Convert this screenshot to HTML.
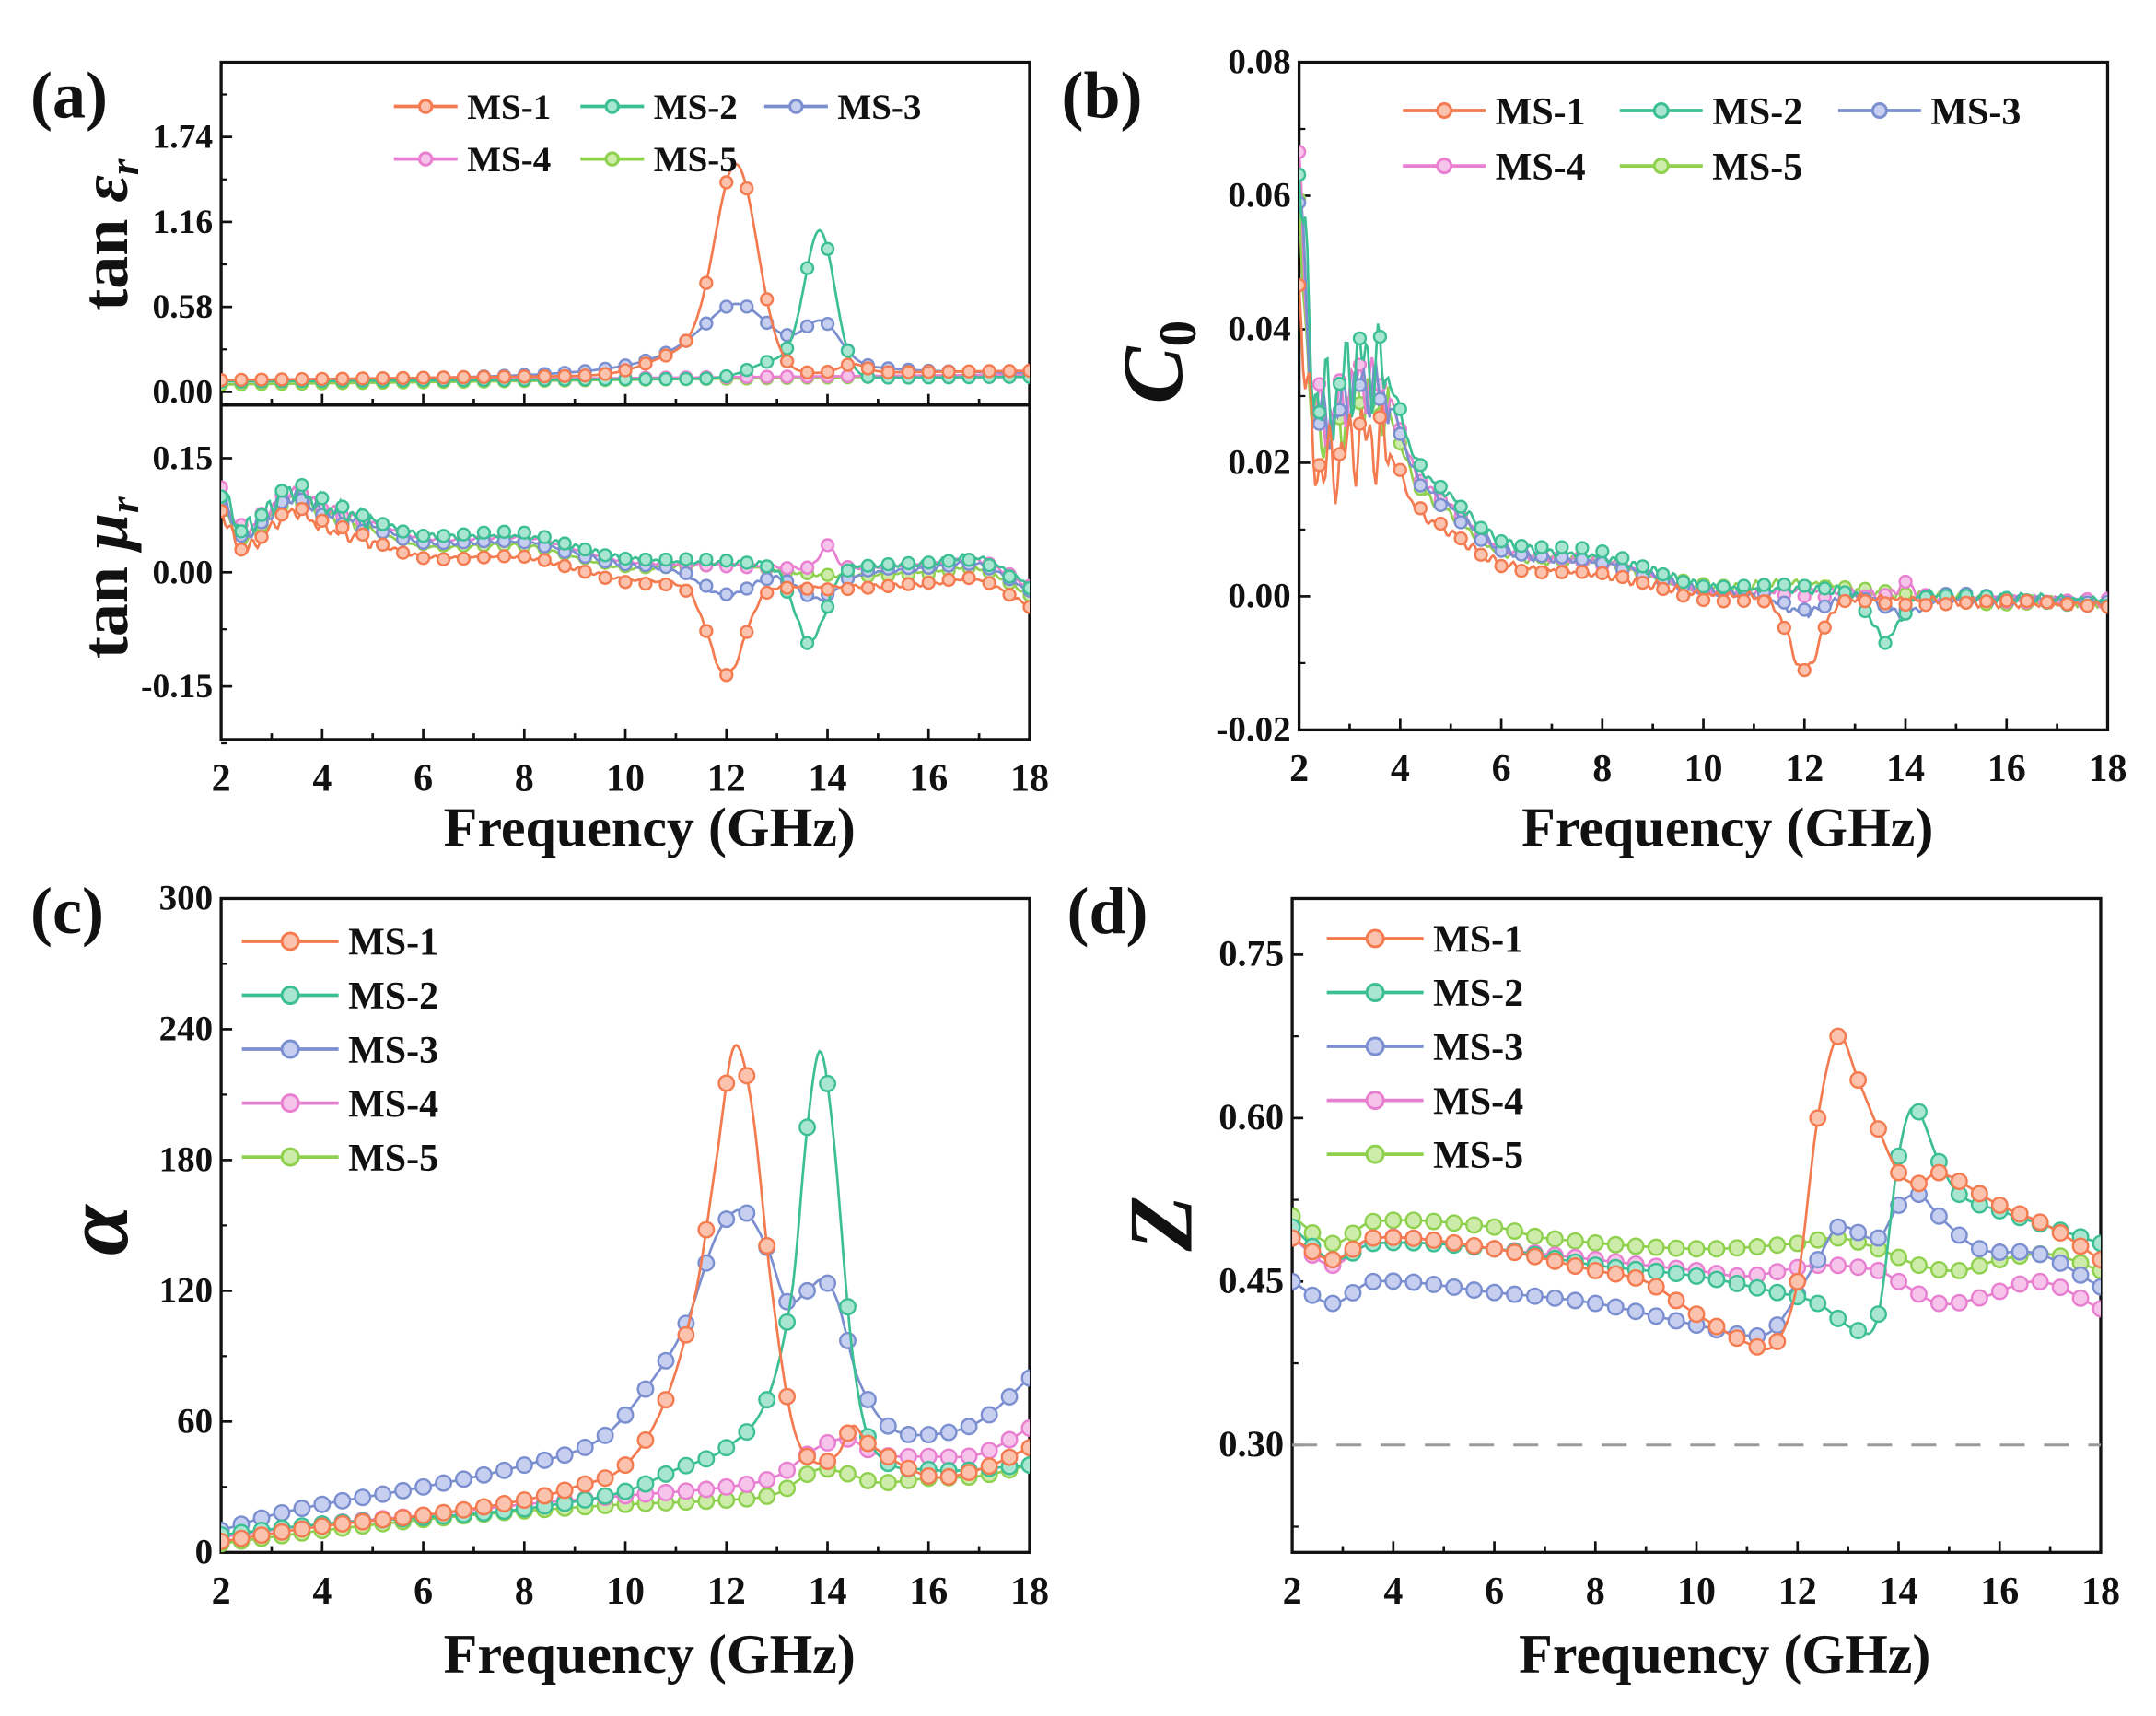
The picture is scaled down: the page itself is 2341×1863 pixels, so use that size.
<!DOCTYPE html>
<html><head><meta charset="utf-8">
<style>
html,body{margin:0;padding:0;background:#fff;}
svg{display:block;}
text{font-family:"Liberation Serif",serif;font-weight:bold;fill:#111;}
</style></head>
<body>
<svg id="s" width="2341" height="1863" viewBox="0 0 1560 1241.4" preserveAspectRatio="none" xmlns="http://www.w3.org/2000/svg">
<rect width="1560" height="1241.4" fill="#fff"/>
<text x="22" y="85" font-size="48">(a)</text>
<text x="768" y="85" font-size="48">(b)</text>
<text x="22" y="675" font-size="48">(c)</text>
<text x="772" y="675" font-size="48">(d)</text>
<text x="470" y="612" font-size="40" text-anchor="middle">Frequency (GHz)</text>
<text x="1250" y="612" font-size="40" text-anchor="middle">Frequency (GHz)</text>
<text x="470" y="1210" font-size="40" text-anchor="middle">Frequency (GHz)</text>
<text x="1248" y="1210" font-size="40" text-anchor="middle">Frequency (GHz)</text>
<text transform="translate(92,170) rotate(-90)" font-size="48" text-anchor="middle">tan <tspan font-style="italic">ε<tspan font-size="30" dy="8">r</tspan></tspan></text>
<text transform="translate(92,418) rotate(-90)" font-size="48" text-anchor="middle">tan <tspan font-style="italic">μ<tspan font-size="30" dy="8">r</tspan></tspan></text>
<text transform="translate(855,262) rotate(-90)" font-size="62" text-anchor="middle" font-style="italic">C<tspan font-size="38" dy="10" font-style="normal">0</tspan></text>
<text transform="translate(92,890) rotate(-90)" font-size="66" text-anchor="middle" font-style="italic">α</text>
<text transform="translate(862,885) rotate(-90)" font-size="66" text-anchor="middle" font-style="italic">Z</text>
<g id="g"></g>
</svg>
<script>
var C=['#f47a50','#3dbf95','#7b8fd0','#e87fd0','#8fd14f'];
var L=['#fbc3ad','#a9e6d2','#c6cff0','#f6c3ea','#cdeca9'];
var out='';
function cr(pts,f){var n=pts.length;if(f<=pts[0][0])return pts[0][1];if(f>=pts[n-1][0])return pts[n-1][1];
var i=0;while(i<n-2&&pts[i+1][0]<f)i++;
var p0=pts[Math.max(0,i-1)],p1=pts[i],p2=pts[i+1],p3=pts[Math.min(n-1,i+2)];
var t=(f-p1[0])/(p2[0]-p1[0]);
var m1=(p2[1]-p0[1])/(p2[0]-p0[0])*(p2[0]-p1[0]),m2=(p3[1]-p1[1])/(p3[0]-p1[0])*(p2[0]-p1[0]);
var t2=t*t,t3=t2*t;return (2*t3-3*t2+1)*p1[1]+(t3-2*t2+t)*m1+(-2*t3+3*t2)*p2[1]+(t3-t2)*m2;}
function G(f,a,c,w){return a*Math.exp(-(f-c)*(f-c)/(2*w*w));}
function axes(x0,x1,y0,y1,ymin,ymax,ticks,minor,labs,fs,noX){
 var s='<rect x="'+x0+'" y="'+y0+'" width="'+(x1-x0)+'" height="'+(y1-y0)+'" fill="none" stroke="#111" stroke-width="2.2"/>';
 function X(f){return x0+(f-2)/16*(x1-x0);}
 function Y(v){return y1-(v-ymin)/(ymax-ymin)*(y1-y0);}
 for(var f=2;f<=18;f+=1){var xx=X(f),l=(f%2==0)?8:4.5;s+='<line x1="'+xx+'" x2="'+xx+'" y1="'+y1+'" y2="'+(y1-l)+'" stroke="#111" stroke-width="1.8"/>';
  if(!noX&&f%2==0)s+='<text x="'+xx+'" y="'+(y1+37)+'" font-size="28" text-anchor="middle">'+f+'</text>';}
 ticks.forEach(function(v,i){var yy=Y(v);s+='<line x1="'+x0+'" x2="'+(x0+8)+'" y1="'+yy+'" y2="'+yy+'" stroke="#111" stroke-width="1.8"/>';
  if(labs[i]!==null)s+='<text x="'+(x0-6)+'" y="'+(yy+8)+'" font-size="'+fs+'" text-anchor="end">'+labs[i]+'</text>';});
 minor.forEach(function(v){var yy=Y(v);s+='<line x1="'+x0+'" x2="'+(x0+4.5)+'" y1="'+yy+'" y2="'+yy+'" stroke="#111" stroke-width="1.5"/>';});
 out+=s;return [X,Y];}
function series(XY,fn,ci,step,r,clip){
 var X=XY[0],Y=XY[1],d='';
 for(var f=2;f<=18.001;f+=0.04){d+=(d?'L':'M')+X(f).toFixed(1)+','+Y(fn(f)).toFixed(1);}
 var s='<path d="'+d+'" fill="none" stroke="'+C[ci]+'" stroke-width="1.8"/>';
 for(var f=2;f<=18.001;f+=step){var x=X(f),y=Y(fn(f));s+='<circle cx="'+x.toFixed(1)+'" cy="'+y.toFixed(1)+'" r="'+r+'" fill="'+L[ci]+'" stroke="'+C[ci]+'" stroke-width="1.6"/>';}
 out+='<g clip-path="url(#'+clip+')">'+s+'</g>';}
function clip(id,x0,y0,x1,y1){out+='<clipPath id="'+id+'"><rect x="'+x0+'" y="'+y0+'" width="'+(x1-x0)+'" height="'+(y1-y0)+'"/></clipPath>';}
function leg(x,y,ci,name,len,fs,r){out+='<line x1="'+x+'" x2="'+(x+len)+'" y1="'+y+'" y2="'+y+'" stroke="'+C[ci]+'" stroke-width="2.5"/><circle cx="'+(x+len/2)+'" cy="'+y+'" r="'+r+'" fill="'+L[ci]+'" stroke="'+C[ci]+'" stroke-width="2"/><text x="'+(x+len+7)+'" y="'+(y+fs*0.35)+'" font-size="'+fs+'">'+name+'</text>';}
function nz(f,k){return Math.sin(f*17.3+k)*0.5+Math.sin(f*31.1+2*k)*0.5;}

var a0=160,a1=745;
clip('ca1',a0,45,a1,293);clip('ca2',a0,293,a1,535);
var XYa=axes(a0,a1,45,293,-0.09,2.25,[0,0.58,1.16,1.74],[0.29,0.87,1.45,2.03],['0.00','0.58','1.16','1.74'],25,true);
out+='<line x1="'+a0+'" x2="'+a1+'" y1="293" y2="293" stroke="#111" stroke-width="2.2"/>';
var ua=[
 function(f){return 0.08+0.004*(f-2)+G(f,1.38,12.2,0.42)+G(f,0.15,11.2,0.7)+G(f,0.06,14.5,0.25);},
 function(f){return 0.07+0.002*(f-2)+G(f,0.98,13.85,0.3)+G(f,0.12,13.0,0.5);},
 function(f){return 0.1+0.003*(f-2)+0.5/(1+Math.pow((f-12.2)/1.0,2))+G(f,0.25,13.9,0.35)-0.03;},
 function(f){return 0.07+0.003*(f-2);},
 function(f){return 0.05+0.004*(f-2);}];
for(var i=4;i>=0;i--)series(XYa,ua[i],i,0.4,4.3,'ca1');
var XYb=axes(a0,a1,293,535,-0.22,0.22,[0.15,0,-0.15],[0.075,-0.075,-0.225],['0.15','0.00','-0.15'],25,false);
var base=[[2,0.1],[2.4,0.05],[2.7,0.06],[3.4,0.1],[4,0.08],[5,0.06],[6,0.04],[8,0.04],[9,0.025],[10,0.01],[12,0.005],[14,0.0],[16,0.005],[17,0.01],[18,-0.025]];
var la=[
 function(f){return cr(base,f)-0.02-G(f,0.12,12.0,0.35)+0.01*nz(f,1)*(f<5?1:0.3);},
 function(f){return cr(base,f)+0.008-G(f,0.1,13.65,0.3)+0.015*nz(f,2)*(f<5?1:0.3);},
 function(f){return cr(base,f)-G(f,0.035,12.0,0.5)-G(f,0.035,13.8,0.4)+0.01*nz(f,3)*(f<5?1:0.3);},
 function(f){return cr(base,f)+0.005+G(f,0.03,14,0.15)+0.008*nz(f,4)*(f<5?1:0.3);},
 function(f){return cr(base,f)-0.005+G(f,0.01,12,1)+0.008*nz(f,5)*(f<5?1:0.3);}];
for(var i=4;i>=0;i--)series(XYb,la[i],i,0.4,4.3,'ca2');
leg(285,77,0,'MS-1',46,26,4.5);leg(420,77,1,'MS-2',46,26,4.5);leg(553,77,2,'MS-3',46,26,4.5);
leg(285,115,3,'MS-4',46,26,4.5);leg(420,115,4,'MS-5',46,26,4.5);

var b0=940,b1=1525;clip('cb',b0,45,b1,528);
var XYc=axes(b0,b1,45,528,-0.02,0.08,[-0.02,0,0.02,0.04,0.06,0.08],[-0.01,0.01,0.03,0.05,0.07],['-0.02','0.00','0.02','0.04','0.06','0.08'],26,false);
var cb=[[2,0.06],[2.3,0.028],[3.2,0.031],[3.8,0.028],[4.3,0.018],[5,0.013],[6,0.007],[8,0.005],[9,0.003],[10,0.001],[12,0.0007],[14,0.0],[18,-0.001]];
var bb=[
 function(f){return cr(cb,f)*0.78-0.0006-G(f,0.011,12,0.3)+(f<3.8?0.007*nz(f,1):0.0008*nz(f,1));},
 function(f){return cr(cb,f)*1.12+0.0004-G(f,0.007,13.6,0.28)+(f<3.8?0.008*nz(f,2):0.0008*nz(f,2));},
 function(f){return cr(cb,f)*1.02-G(f,0.003,12,0.5)-G(f,0.0025,13.9,0.4)+(f<3.8?0.005*nz(f,3):0.0008*nz(f,3));},
 function(f){return cr(cb,f)*1.04+G(f,0.002,14,0.15)+(f<3.8?0.005*nz(f,4):0.0008*nz(f,4));},
 function(f){return cr(cb,f)*0.95+G(f,0.0012,12,1.2)+(f<3.8?0.005*nz(f,5):0.0008*nz(f,5));}];
for(var i=4;i>=0;i--)series(XYc,bb[i],i,0.4,4.3,'cb');
leg(1015,80,0,'MS-1',60,28,5);leg(1172,80,1,'MS-2',60,28,5);leg(1330,80,2,'MS-3',60,28,5);
leg(1015,120,3,'MS-4',60,28,5);leg(1172,120,4,'MS-5',60,28,5);

var c0=160,c1=745;clip('cc',c0,650,c1,1123);
var XYd=axes(c0,c1,650,1123,0,300,[0,60,120,180,240,300],[30,90,150,210,270],['0','60','120','180','240','300'],26,false);
var cc=[
 function(f){return cr([[2,5],[4,12],[6,17],[8,24],[9,30],[10,40],[10.8,70],[11.4,120],[11.8,180],[12.15,232],[12.5,205],[12.9,120],[13.3,60],[13.7,42],[14.2,45],[14.5,58],[14.8,50],[16,35],[17,38],[18,48]],f);},
 function(f){return cr([[2,8],[4,13],[6,16],[8,20],[10,28],[11,38],[12,48],[12.8,70],[13.3,120],[13.6,195],[13.85,230],[14.1,195],[14.5,90],[14.9,48],[16,38],[18,40]],f);},
 function(f){return cr([[2,10],[3,17],[4,22],[6,30],[8,40],[9.5,52],[10.5,78],[11.2,105],[11.8,145],[12.3,157],[12.8,140],[13.2,115],[13.6,120],[13.9,125],[14.2,115],[14.6,80],[15.2,58],[16,54],[17,60],[18,80]],f);},
 function(f){return cr([[2,7],[4,13],[6,17],[8,22],[10,26],[12,30],[13,35],[13.8,48],[14.4,52],[15,45],[16,44],[17,45],[18,57]],f);},
 function(f){return cr([[2,4],[4,10],[6,15],[8,19],[10,22],[12,24],[13,27],[13.8,38],[14.4,36],[15,32],[16,34],[17,35],[18,40]],f);}];
for(var i=4;i>=0;i--)series(XYd,cc[i],i,0.4,5.5,'cc');
[0,1,2,3,4].forEach(function(i){leg(175,681+39*i,i,'MS-'+(i+1),70,28,6);});

var d0=935,d1=1520;clip('cd',d0,650,d1,1123);
var XYe=axes(d0,d1,650,1123,0.2015,0.8015,[0.3,0.45,0.6,0.75],[0.225,0.375,0.525,0.675],['0.30','0.45','0.60','0.75'],27,false);
out+='<line x1="'+d0+'" x2="'+d1+'" y1="'+XYe[1](0.3)+'" y2="'+XYe[1](0.3)+'" stroke="#999" stroke-width="2" stroke-dasharray="18,14"/>';
var P=[
 [[2,.49],[2.8,.47],[3.6,.49],[6,.48],[8,.46],[9,.45],[10,.42],[11.2,.39],[11.6,.395],[12,.45],[12.4,.6],[12.8,.675],[13.2,.635],[13.6,.59],[14,.55],[14.4,.54],[14.8,.55],[16,.52],[17,.5],[18,.47]],
 [[2,.5],[2.8,.47],[3.6,.485],[6,.48],[8,.465],[10,.455],[11.6,.44],[12.4,.43],[13.2,.405],[13.6,.42],[14,.565],[14.3,.61],[14.8,.56],[15.2,.53],[16,.515],[17,.5],[18,.485]],
 [[2,.45],[2.8,.43],[3.6,.45],[6,.44],[8,.43],[10,.41],[11.2,.4],[11.6,.41],[12.4,.47],[12.8,.5],[13.6,.49],[14,.52],[14.4,.53],[14.8,.51],[15.6,.48],[16.8,.475],[18,.445]],
 [[2,.49],[2.8,.465],[3.6,.49],[6,.48],[8,.47],[10,.46],[11,.455],[12.4,.465],[13.6,.46],[14,.45],[14.8,.43],[15.6,.435],[16.8,.45],[18,.425]],
 [[2,.51],[2.8,.485],[3.6,.505],[6,.5],[7,.49],[10,.48],[12,.485],[12.8,.49],[13.6,.48],[14.4,.465],[15.2,.46],[16,.47],[17,.475],[18,.46]]];
for(var i=4;i>=0;i--)(function(p){series(XYe,function(f){return cr(p,f);},i,0.4,5.5,'cd');})(P[i]);
[0,1,2,3,4].forEach(function(i){leg(960,679+39*i,i,'MS-'+(i+1),70,28,6);});

document.getElementById('g').innerHTML=out;
</script>
</body></html>
